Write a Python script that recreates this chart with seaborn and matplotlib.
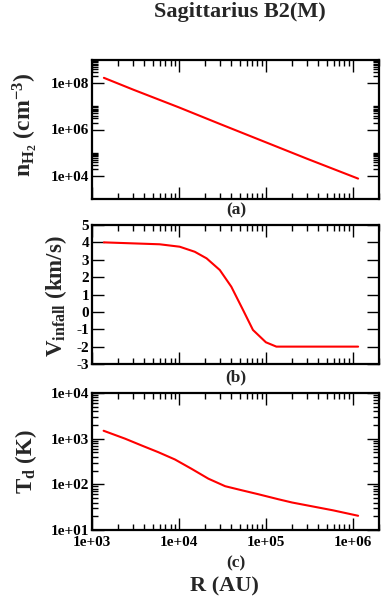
import numpy as np
import pandas as pd
import matplotlib
matplotlib.use("Agg")
import matplotlib.pyplot as plt
from matplotlib.ticker import FixedLocator, FixedFormatter, NullFormatter
import seaborn as sns

# ---------------- data ----------------
r_density = [1.37e3, 3e3, 1e4, 3e4, 1e5, 3e5, 1.15e6]
n_h2 = [1.7e8, 5.2e7, 9.0e6, 1.7e6, 2.8e5, 5.4e4, 7.6e3]

r_vel = [1.37e3, 6.0e3, 1.02e4, 1.52e4, 2.08e4, 2.95e4, 4.0e4, 5.46e4,
         7.1e4, 1.0e5, 1.32e5, 3.0e5, 1.15e6]
v_infall = [4.0, 3.89, 3.75, 3.46, 3.08, 2.41, 1.45, 0.11,
            -1.04, -1.75, -2.0, -2.0, -2.0]

r_temp = [1.36e3, 2.4e3, 3.75e3, 5.8e3, 9.0e3, 1.4e4, 2.18e4, 3.4e4, 5.3e4,
          8.1e4, 1.4e5, 2.0e5, 5.9e5, 1.15e6]
t_dust = [1490, 1000, 705, 505, 350, 218, 133, 91, 74,
          61, 47, 40, 27, 20.5]

x_ticks = [1e3, 1e4, 1e5, 1e6]
x_ticklabels = ["1e+03", "1e+04", "1e+05", "1e+06"]
a_yticks = [1e4, 1e6, 1e8]
a_yticklabels = ["1e+04", "1e+06", "1e+08"]
b_yticks = [-3, -2, -1, 0, 1, 2, 3, 4, 5]
b_yticklabels = ["-3", "-2", "-1", "0", "1", "2", "3", "4", "5"]
c_yticks = [1e1, 1e2, 1e3, 1e4]
c_yticklabels = ["1e+01", "1e+02", "1e+03", "1e+04"]

title = "Sagittarius B2(M)"
panel_tags = ["(a)", "(b)", "(c)"]
xlabel = "R (AU)"

# ---------------- style ----------------
sns.set_style("ticks")
plt.rcParams["font.family"] = ["Liberation Serif", "DejaVu Serif"]
plt.rcParams["font.weight"] = "bold"
plt.rcParams["mathtext.fontset"] = "custom"
plt.rcParams["mathtext.rm"] = "Liberation Serif:bold"
plt.rcParams["mathtext.it"] = "Liberation Serif:bold"
plt.rcParams["mathtext.bf"] = "Liberation Serif:bold"

W, H = 382, 599
fig = plt.figure(figsize=(W / 100, H / 100), dpi=100)
fig.patch.set_facecolor("white")

def px_axes(left, top, right, bottom):
    return fig.add_axes([left / W, 1 - bottom / H, (right - left) / W, (bottom - top) / H])

ax_a = px_axes(92, 60, 379, 199)
ax_b = px_axes(92, 225, 379, 364)
ax_c = px_axes(92, 393, 379, 530)

df_a = pd.DataFrame({"r": r_density, "v": n_h2})
df_b = pd.DataFrame({"r": r_vel, "v": v_infall})
df_c = pd.DataFrame({"r": r_temp, "v": t_dust})

for ax, df in [(ax_a, df_a), (ax_b, df_b), (ax_c, df_c)]:
    sns.lineplot(data=df, x="r", y="v", ax=ax, color="#ff0000", linewidth=1.5,
                 sort=False, estimator=None)
    ax.set_xscale("log")
    ax.set_xlim(1e3, 2.0e6)
    ax.set_xlabel("")
    ax.set_ylabel("")
    for s in ax.spines.values():
        s.set_linewidth(1.6)
        s.set_color("black")
    ax.xaxis.set_major_locator(FixedLocator(x_ticks))
    ax.xaxis.set_minor_locator(FixedLocator([k * 10.0 ** d for d in range(3, 7) for k in range(2, 10)]))
    ax.xaxis.set_minor_formatter(NullFormatter())
    ax.tick_params(which="both", direction="in", top=True, right=True, width=1.0,
                   labelsize=11, pad=2, colors="black")
    ax.tick_params(which="major", length=8.5)
    ax.tick_params(which="minor", length=4.5)
    ax.grid(False)

# x labels only on bottom
for ax in (ax_a, ax_b):
    ax.xaxis.set_major_formatter(NullFormatter())
ax_c.xaxis.set_major_formatter(FixedFormatter(x_ticklabels))
ax_c.tick_params(axis="x", which="major", pad=4)

# panel a
ax_a.set_yscale("log")
ax_a.set_ylim(1e3, 1e9)
ax_a.yaxis.set_major_locator(FixedLocator(a_yticks))
ax_a.yaxis.set_major_formatter(FixedFormatter(a_yticklabels))
ax_a.yaxis.set_minor_locator(FixedLocator([k * 10.0 ** d for d in (4, 6, 8) for k in range(2, 11)]))
ax_a.yaxis.set_minor_formatter(NullFormatter())

# panel b
ax_b.set_ylim(-3, 5)
ax_b.yaxis.set_major_locator(FixedLocator(b_yticks))
ax_b.yaxis.set_major_formatter(FixedFormatter(b_yticklabels))
ax_b.yaxis.set_minor_locator(FixedLocator([]))

# panel c
ax_c.set_yscale("log")
ax_c.set_ylim(1e1, 1e4)
ax_c.yaxis.set_major_locator(FixedLocator(c_yticks))
ax_c.yaxis.set_major_formatter(FixedFormatter(c_yticklabels))
ax_c.yaxis.set_minor_locator(FixedLocator([k * 10.0 ** d for d in (1, 2, 3) for k in range(2, 10)]))
ax_c.yaxis.set_minor_formatter(NullFormatter())

for ax in (ax_a, ax_b, ax_c):
    for lab in ax.get_xticklabels() + ax.get_yticklabels():
        lab.set_fontweight("bold")

# y labels
def ylab(text, xpx, ax, frac, size):
    ax.set_ylabel(text, fontsize=size, fontweight="bold", va="center", ha="center")
    ax.yaxis.set_label_coords((xpx - 92) / (379 - 92), frac)

ylab(r"n$_{\mathrm{H_2}}$ (cm$^{-3}$)", 25, ax_a, 0.53, 17)
ylab(r"V$_{\mathrm{infall}}$ (km/s)", 56, ax_b, 0.49, 16.5)
ylab(r"T$_{\mathrm{d}}$ (K)", 26, ax_c, 0.50, 16.5)

# texts
fig.text(240 / W, 1 - 12 / H, title, ha="center", va="center", fontsize=16, fontweight="bold")
for tag, ypx in zip(panel_tags, [210, 377, 563]):
    fig.text(236 / W, 1 - ypx / H, tag, ha="center", va="center", fontsize=12.5, fontweight="bold")
fig.text(224 / W, 1 - 586 / H, xlabel, ha="center", va="center", fontsize=16, fontweight="bold")

fig.savefig("out.png", dpi=100, facecolor="white")
